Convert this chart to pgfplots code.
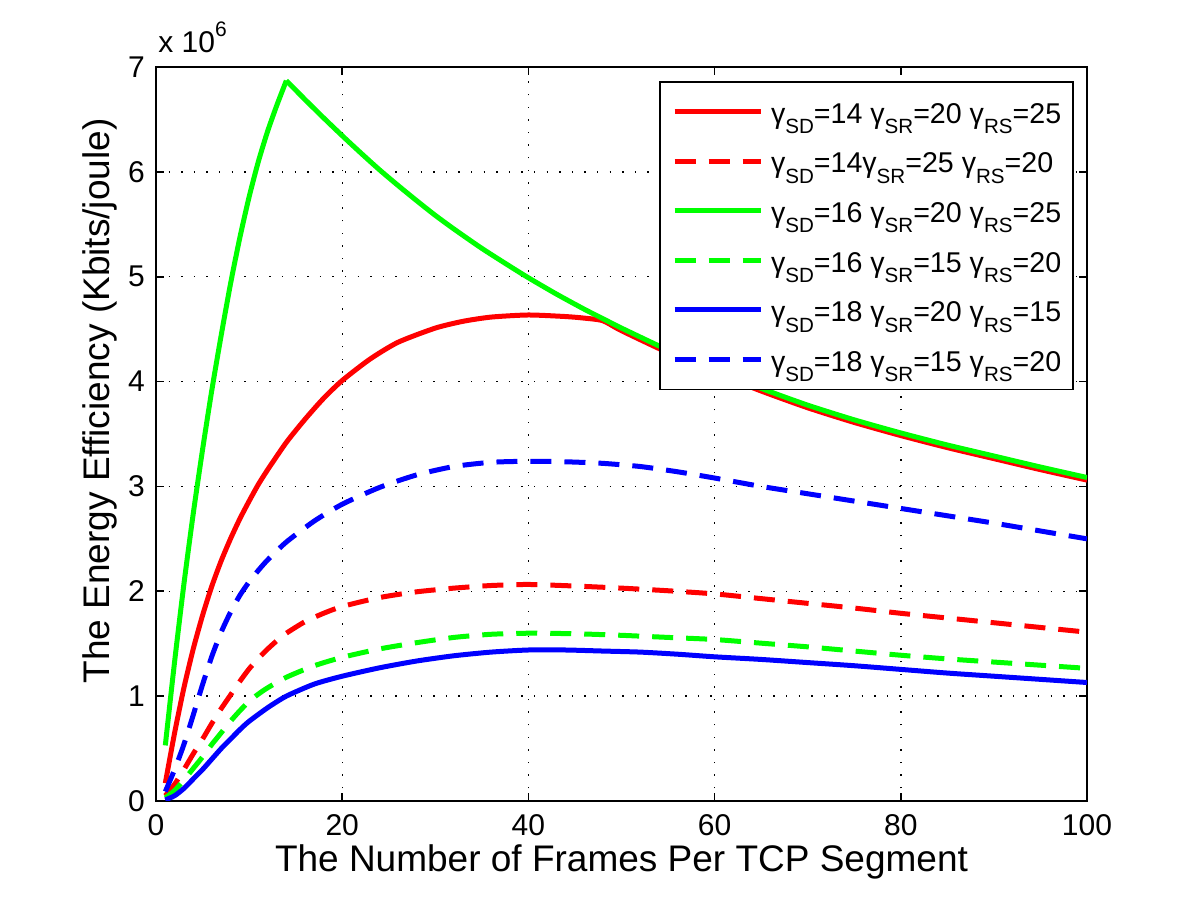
\documentclass[border=0pt]{standalone}
\usepackage{fontspec}
\setmainfont{Liberation Sans}
\usepackage{pgfplots}
\pgfplotsset{compat=1.18}
\newcommand\sub[1]{\raisebox{-0.36em}{\scalebox{0.72}{#1}}}
\newcommand\g[1]{γ\sub{#1}}
\newcommand\legap{\hspace*{4pt}}
\definecolor{mred}{RGB}{255,0,0}
\definecolor{mgreen}{RGB}{0,255,0}
\definecolor{mblue}{RGB}{0,0,255}
\begin{document}
\begin{tikzpicture}
\begin{axis}[
  scale only axis,
  width=465.5pt, height=367pt,
  xmin=0, xmax=100, ymin=0, ymax=7,
  xtick={0,20,...,100}, ytick={0,1,...,7},
  tick align=inside,
  major tick length=4pt,
  axis line style={line width=0.9pt},
  every tick/.style={black, line width=0.8pt},
  grid=major,
  major grid style={black, line width=0.7pt, dash pattern=on 0.7pt off 5.6pt},
  /pgf/number format/assume math mode=true,
  tick label style={font=\fontsize{15}{18}\selectfont},
  xticklabel style={yshift=-3pt},
  yticklabel style={xshift=-2pt},
  scaled y ticks=false,
  xlabel={The Number of Frames Per TCP Segment},
  ylabel={The Energy Efficiency (Kbits/joule)},
  label style={font=\fontsize{18.5}{22}\selectfont},
  xlabel style={at={(axis description cs:0.5,-0.083)}, anchor=center},
  ylabel style={at={(axis description cs:-0.060,0.545)}, anchor=center},
  legend style={at={(0.986,0.981)}, anchor=north east, draw=black, line width=0.8pt,
    font=\fontsize{14.3}{17}\selectfont, inner xsep=6pt, inner ysep=2.5pt,
    nodes={inner sep=0pt, text height=18.3pt, text depth=6.5pt}},
  legend cell align=left,
  legend image code/.code={\draw[#1, line width=2.5pt] (0pt,0pt) -- (43pt,0pt);},
  every axis plot/.append style={line width=2.5pt, line join=round},
  clip=true,
]
\addplot[mred, solid, smooth, tension=0.4] coordinates {(1,0.17)(2,0.65)(3,1.08)(4,1.45)(5,1.77)(6,2.05)(7,2.29)(8,2.50)(9,2.69)(10,2.86)(11,3.02)(12,3.16)(14,3.42)(16,3.64)(18,3.84)(20,4.01)(23,4.215)(26,4.375)(30,4.51)(33,4.575)(36,4.615)(40,4.635)(44,4.62)(46,4.605)(48,4.58)(50,4.485)(55,4.275)(60,4.085)(65,3.91)(70,3.75)(75,3.61)(80,3.485)(85,3.37)(90,3.265)(95,3.16)(100,3.06)};
\addlegendentry{\legap\g{SD}=14 \g{SR}=20 \g{RS}=25}
\addplot[mred, dash pattern=on 10.5pt off 6.5pt, smooth, tension=0.4] coordinates {(1,0.05)(2,0.16)(3,0.30)(4,0.45)(5,0.59)(6,0.74)(7,0.88)(8,1.01)(9,1.14)(10,1.26)(11,1.36)(12,1.45)(13,1.53)(14,1.60)(16,1.71)(18,1.79)(20,1.855)(24,1.94)(28,1.995)(32,2.03)(36,2.055)(40,2.065)(45,2.05)(50,2.03)(55,2.005)(60,1.975)(65,1.93)(70,1.885)(75,1.84)(80,1.79)(85,1.745)(90,1.70)(95,1.655)(100,1.61)};
\addlegendentry{\legap\g{SD}=14\g{SR}=25 \g{RS}=20}
\addplot[mgreen, solid, smooth, tension=0.4] coordinates {(1,0.53)(2,1.33)(3,2.07)(4,2.74)(5,3.35)(6,3.92)(7,4.44)(8,4.93)(9,5.37)(10,5.76)(11,6.10)(12,6.39)(13,6.64)(14,6.87)};
\addlegendentry{\legap\g{SD}=16 \g{SR}=20 \g{RS}=25}
\addplot[mgreen, solid, smooth, tension=0.4, forget plot] coordinates {(14,6.87)(16,6.69)(18,6.515)(20,6.345)(22,6.18)(24,6.02)(26,5.87)(28,5.725)(30,5.585)(32,5.455)(35,5.27)(38,5.10)(40,4.99)(43,4.835)(46,4.69)(48,4.60)(50,4.51)(55,4.30)(60,4.11)(65,3.935)(70,3.775)(75,3.635)(80,3.51)(85,3.395)(90,3.29)(95,3.185)(100,3.085)};
\addplot[mgreen, dash pattern=on 10.5pt off 6.5pt, smooth, tension=0.4] coordinates {(1,0.03)(2,0.10)(3,0.20)(4,0.31)(5,0.42)(6,0.54)(7,0.65)(8,0.76)(9,0.86)(10,0.95)(11,1.02)(12,1.08)(14,1.18)(17,1.29)(20,1.37)(24,1.45)(28,1.51)(32,1.56)(36,1.59)(40,1.60)(45,1.595)(50,1.58)(55,1.56)(60,1.54)(65,1.505)(70,1.47)(75,1.43)(80,1.39)(85,1.355)(90,1.325)(95,1.295)(100,1.265)};
\addlegendentry{\legap\g{SD}=16 \g{SR}=15 \g{RS}=20}
\addplot[mblue, solid, smooth, tension=0.4] coordinates {(1,0.01)(2,0.05)(3,0.12)(4,0.21)(5,0.30)(6,0.40)(7,0.50)(8,0.59)(9,0.68)(10,0.76)(12,0.89)(14,1.00)(17,1.115)(20,1.19)(24,1.27)(28,1.335)(32,1.385)(36,1.42)(40,1.44)(44,1.44)(48,1.43)(52,1.42)(56,1.40)(60,1.375)(65,1.35)(70,1.32)(75,1.29)(80,1.255)(85,1.22)(90,1.19)(95,1.16)(100,1.13)};
\addlegendentry{\legap\g{SD}=18 \g{SR}=20 \g{RS}=15}
\addplot[mblue, dash pattern=on 10.5pt off 6.5pt, smooth, tension=0.4] coordinates {(1,0.09)(2,0.30)(3,0.54)(4,0.82)(5,1.11)(6,1.38)(7,1.61)(8,1.80)(9,1.96)(10,2.09)(11,2.20)(12,2.30)(14,2.47)(17,2.67)(20,2.83)(24,2.99)(28,3.11)(32,3.19)(36,3.23)(40,3.24)(44,3.235)(48,3.22)(52,3.19)(56,3.14)(60,3.08)(65,3.00)(70,2.93)(75,2.86)(80,2.79)(85,2.72)(90,2.65)(95,2.575)(100,2.50)};
\addlegendentry{\legap\g{SD}=18 \g{SR}=15 \g{RS}=20}
\end{axis}
\node[anchor=base west, inner sep=0pt, font=\fontsize{15}{18}\selectfont] at ([xshift=1pt,yshift=7pt]current axis.north west) {x 10\raisebox{0.55em}{\scalebox{0.7}{6}}};
\pgfresetboundingbox
\path ([shift={(-78pt,-51pt)}]current axis.south west) rectangle ([shift={(56.5pt,33.5pt)}]current axis.north east);
\end{tikzpicture}
\end{document}
